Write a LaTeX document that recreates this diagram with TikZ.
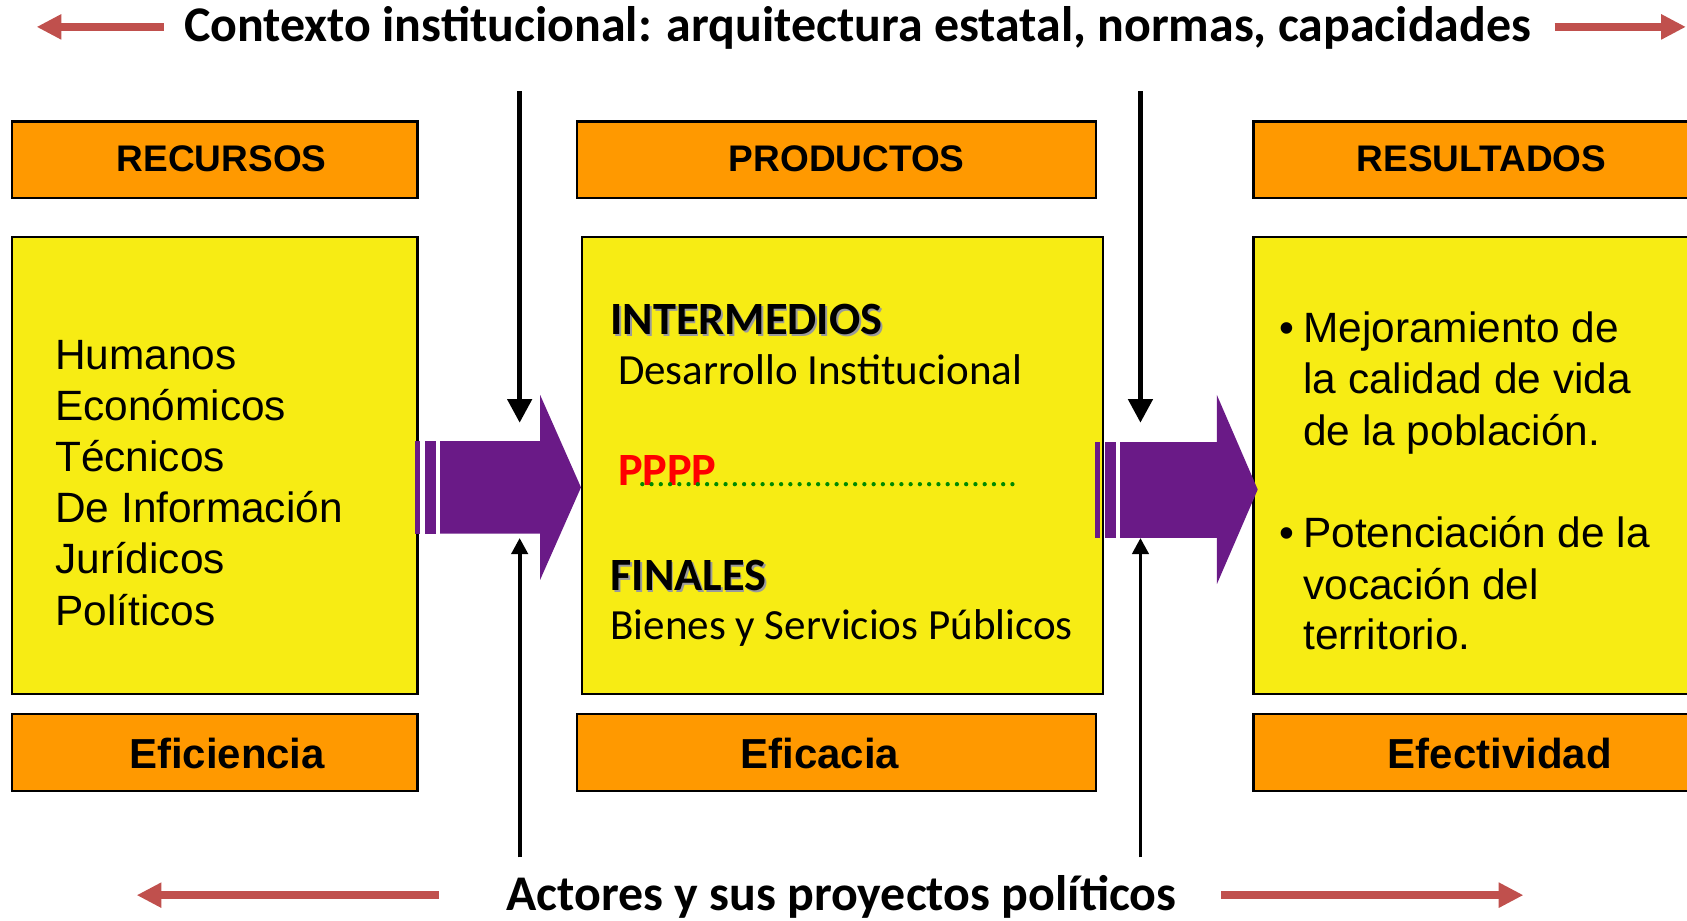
\documentclass[tikz,border=0pt]{standalone}
\usepackage{fontspec}
\setmainfont{Liberation Sans}
\newfontfamily\calib{Carlito}
\usetikzlibrary{arrows.meta}
\definecolor{orng}{HTML}{FF9900}
\definecolor{yllw}{HTML}{F7EC14}
\definecolor{purp}{HTML}{6A1A87}
\definecolor{redar}{HTML}{C0504D}
\definecolor{grn}{HTML}{008A00}
\definecolor{shad}{HTML}{9A9A9A}
\newcommand{\shadowed}[1]{\rlap{\hspace{0.8pt}\raisebox{-0.8pt}{\textcolor{shad}{#1}}}#1}
\tikzset{
  hdrbox/.style={draw=black, line width=1pt, fill=orng, minimum height=35.5pt, inner sep=0pt},
  ylwbox/.style={draw=black, line width=1pt, fill=yllw, minimum height=212.5pt, inner sep=0pt},
  hdrtxt/.style={font=\fontsize{17.2}{20}\selectfont\bfseries, inner sep=0pt},
  fttxt/.style={font=\fontsize{19.5}{23}\selectfont\bfseries, inner sep=0pt},
  bodytxt/.style={font=\fontsize{19.7}{24}\selectfont, anchor=base west, inner sep=0pt},
  calhead/.style={font=\calib\bfseries\fontsize{21.5}{25}\selectfont, anchor=base west, inner sep=0pt},
  calbody/.style={font=\calib\fontsize{20}{24}\selectfont, anchor=base west, inner sep=0pt},
  titletxt/.style={font=\calib\bfseries\fontsize{23.2}{27}\selectfont, anchor=base, inner sep=0pt},
  redarr/.style={draw=redar, line width=3.5pt, -{Triangle[length=11.5pt,width=11pt]}},
  blkarr/.style={draw=black, line width=2.5pt, -{Triangle[length=11pt,width=11pt]}},
  blkarrsm/.style={draw=black, line width=1.8pt, -{Triangle[length=7.5pt,width=7.5pt]}},
  purpshape/.style={fill=purp, draw=none},
  dotline/.style={draw=grn, line width=2pt, line cap=round, dash pattern=on 0pt off 4.3pt}
}
\begin{document}
\begin{tikzpicture}[x=0.5pt,y=-0.5pt]
\useasboundingbox (0,0) rectangle (1568,856);
\clip (0,0) rectangle (1568,856);

% titles
\node[titletxt] (ttop) at (797,39) {Contexto institucional: arquitectura estatal, normas, capacidades};
\node[titletxt] (tbot) at (782,846) {Actores y sus proyectos políticos};

% red arrows
\coordinate (ra1s) at (152,25); \coordinate (ra1e) at (34,25);
\coordinate (ra2s) at (1445,25); \coordinate (ra2e) at (1567,25);
\coordinate (ra3s) at (408,832); \coordinate (ra3e) at (127,832);
\coordinate (ra4s) at (1135,832); \coordinate (ra4e) at (1416,832);
\draw[redarr] (ra1s) -- (ra1e);
\draw[redarr] (ra2s) -- (ra2e);
\draw[redarr] (ra3s) -- (ra3e);
\draw[redarr] (ra4s) -- (ra4e);

% header boxes
\node[hdrbox, minimum width=188.5pt] (hrec) at (199.5,148.5) {};
\node[hdrbox, minimum width=241.5pt] (hprod) at (777.5,148.5) {};
\node[hdrbox, minimum width=227.5pt] (hres) at (1392.5,148.5) {};
\node[hdrtxt] (trec) at (206,148) {RECURSOS};
\node[hdrtxt] (tprod) at (787,148) {PRODUCTOS};
\node[hdrtxt] (tres) at (1377,148) {RESULTADOS};

% yellow boxes
\node[ylwbox, minimum width=188.5pt] (yrec) at (199.5,432.5) {};
\node[ylwbox, minimum width=242pt] (yprod) at (783,432.5) {};
\node[ylwbox, minimum width=227.5pt] (yres) at (1392.5,432.5) {};

% footer boxes
\node[hdrbox, minimum width=188.5pt] (frec) at (199.5,699.5) {};
\node[hdrbox, minimum width=241.5pt] (fprod) at (777.5,699.5) {};
\node[hdrbox, minimum width=227.5pt] (fres) at (1392.5,699.5) {};
\node[fttxt] (tefi) at (211,700) {Eficiencia};
\node[fttxt] (tefa) at (762,700) {Eficacia};
\node[fttxt] (tefe) at (1394,700) {Efectividad};

% left texts
\foreach \t [count=\i] in {Humanos, Económicos, Técnicos, De Información, Jurídicos, Políticos}
  \node[bodytxt] (rl\i) at (51,{343+47.6*(\i-1)}) {\t};

% middle texts
\node[calhead] (inter) at (567,311) {\shadowed{INTERMEDIOS}};
\node[calbody] (desa) at (574,357) {Desarrollo Institucional};
\node[calhead, text=red] (pppp) at (574,451) {PPPP};
\node[calhead] (fina) at (567,549) {\shadowed{FINALES}};
\node[calbody] (bien) at (567,594) {Bienes y Servicios Públicos};
\coordinate (dls) at (597,450); \coordinate (dle) at (949,450);
\draw[dotline] (dls) -- (dle);

% right texts
\node[bodytxt] (r1) at (1211,318) {\llap{•\hspace{4pt}}Mejoramiento de};
\node[bodytxt] (r2) at (1211,366) {la calidad de vida};
\node[bodytxt] (r3) at (1211,414) {de la población.};
\node[bodytxt] (r4) at (1211,509) {\llap{•\hspace{4pt}}Potenciación de la};
\node[bodytxt] (r5) at (1211,557) {vocación del};
\node[bodytxt] (r6) at (1211,604) {territorio.};

% purple arrows
\fill[purpshape] (386,410) rectangle (390,496);
\fill[purpshape] (395,410) rectangle (405,496);
\fill[purpshape] (409,410) -- (502,410) -- (502,367) -- (540,453) -- (502,539) -- (502,496) -- (409,496) -- cycle;
\fill[purpshape] (1018,411) rectangle (1022,500);
\fill[purpshape] (1027,411) rectangle (1037,500);
\fill[purpshape] (1041,411) -- (1131,411) -- (1131,367) -- (1169,455) -- (1131,543) -- (1131,500) -- (1041,500) -- cycle;

% black arrows
\coordinate (k1s) at (483,85);  \coordinate (k1e) at (483,393);
\coordinate (k2s) at (483,797); \coordinate (k2e) at (483,500);
\coordinate (k3s) at (1060,85); \coordinate (k3e) at (1060,393);
\coordinate (k4s) at (1060,797); \coordinate (k4e) at (1060,500);
\draw[blkarr] (k1s) -- (k1e);
\draw[blkarrsm] (k2s) -- (k2e);
\draw[blkarr] (k3s) -- (k3e);
\draw[blkarrsm] (k4s) -- (k4e);
\end{tikzpicture}
\end{document}
